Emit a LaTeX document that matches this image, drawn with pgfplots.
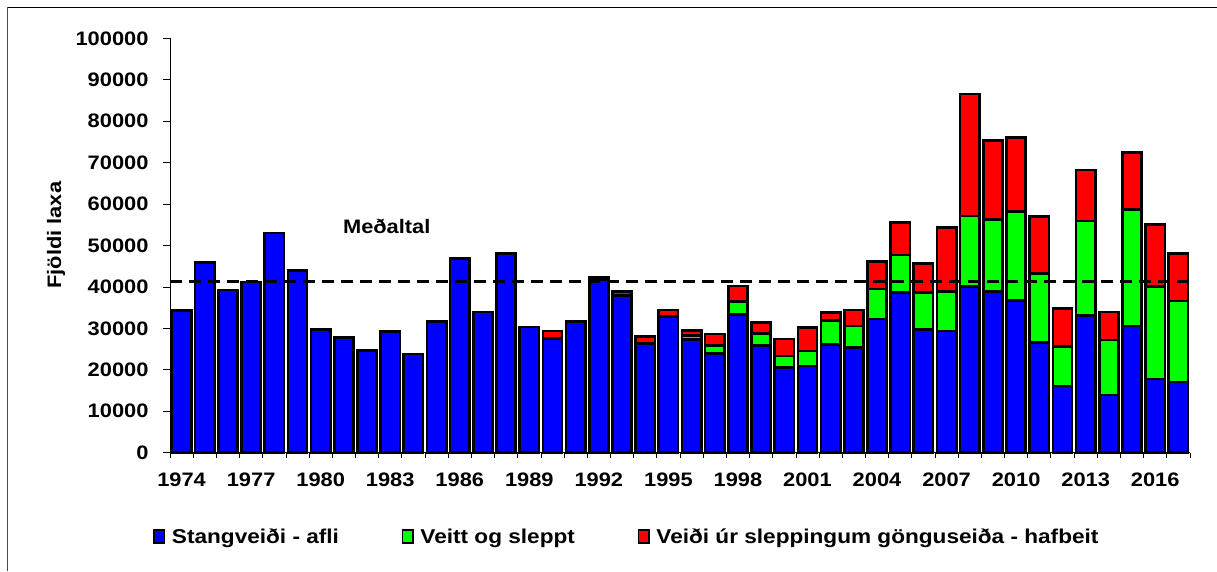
\documentclass[border=0pt]{standalone}
\usepackage{pgfplots}
\pgfplotsset{compat=1.18}
\usepackage{pgfplotstable}
\usepackage{fontspec}
\setmainfont{Liberation Sans}
\newfontfamily\wideb{Liberation Sans}[FakeStretch=1.12]
\newfontfamily\legb{Liberation Sans}[FakeStretch=1.13]
\newcommand{\mainfnt}{\wideb\bfseries\fontsize{19.5}{22}\selectfont}
\newcommand{\legfnt}{\legb\bfseries\fontsize{20}{22}\selectfont}
\definecolor{cblue}{RGB}{0,0,255}
\definecolor{cgreen}{RGB}{0,255,0}
\definecolor{cred}{RGB}{255,0,0}

\pgfplotstableread{
x year blue green red
0 1974 34300 0 0
1 1975 45900 0 0
2 1976 39300 0 0
3 1977 41200 0 0
4 1978 53000 0 0
5 1979 44000 0 0
6 1980 29800 0 0
7 1981 27800 0 0
8 1982 24600 0 0
9 1983 29300 0 0
10 1984 23800 0 0
11 1985 31700 0 0
12 1986 46800 0 0
13 1987 34000 0 0
14 1988 48000 0 0
15 1989 30300 0 0
16 1990 27600 0 1800
17 1991 31600 0 0
18 1992 41700 0 600
19 1993 37900 0 1000
20 1994 26400 0 1600
21 1995 32800 0 1600
22 1996 27300 1000 1200
23 1997 24000 1900 2700
24 1998 33400 3100 3700
25 1999 25800 3000 2600
26 2000 20600 2700 4100
27 2001 20900 3600 5700
28 2002 26100 5800 1900
29 2003 25400 5200 3800
30 2004 32300 7200 6600
31 2005 38600 9100 7800
32 2006 29800 8900 7000
33 2007 29400 9500 15400
34 2008 40100 17000 29500
35 2009 38900 17400 19000
36 2010 36800 21400 17900
37 2011 26600 16700 13700
38 2012 16100 9500 9200
39 2013 33100 22800 12300
40 2014 13900 13300 6800
41 2015 30600 28100 13800
42 2016 17800 22300 15000
43 2017 17100 19500 11500
}\datatable

\pgfplotstableread{
x avg
-0.5 41300
43.5 41300
}\avgtable

\begin{document}
\begin{tikzpicture}
\path[use as bounding box] (0,0) rectangle (1217pt,571pt);
\draw[line width=0.8pt] (7pt,564pt) -- (1217pt,564pt);
\draw[line width=0.8pt, black!70] (7pt,564pt) -- (7pt,0pt);
\begin{axis}[
  at={(170pt,118.3pt)}, anchor=south west,
  scale only axis, width=1020pt, height=414.4pt,
  ybar stacked, bar width=0.83,
  xmin=-0.5, xmax=43.5, ymin=0, ymax=100000,
  clip=false,
  axis x line*=bottom, axis y line*=left,
  axis line style={line width=0.8pt},
  tick align=outside,
  major tick length=7pt, minor tick length=5pt,
  tick style={black, line width=0.8pt},
  every major x tick/.append style={draw=none},
  xtick={0,3,...,42},
  xticklabels={1974,1977,1980,1983,1986,1989,1992,1995,1998,2001,2004,2007,2010,2013,2016},
  minor xtick={-0.5,0.5,...,43.5},
  ytick={0,10000,20000,30000,40000,50000,60000,70000,80000,90000,100000},
  yticklabels={0,10000,20000,30000,40000,50000,60000,70000,80000,90000,100000},
  scaled y ticks=false,
  ticklabel style={font=\mainfnt},
  yticklabel style={xshift=-11pt},
  xticklabel style={yshift=-10pt},
  ylabel={Fjöldi laxa},
  every axis y label/.style={at={(axis description cs:-0.1118,0.525)}, rotate=90, anchor=center, font=\mainfnt},
  legend style={draw=none, fill=none, font=\legfnt, legend columns=3,
     at={(axis description cs:-0.0164,-0.2027)}, anchor=west,
     inner sep=0pt, nodes={inner sep=0pt},
     /tikz/every odd column/.append style={column sep=6.5pt},
     /tikz/every even column/.append style={column sep=63pt}},
  legend cell align=left,
  mylegend/.style={legend image code/.code={\draw[##1, line width=1.5pt] (0pt,-6.5pt) rectangle (10.5pt,6.5pt);}},
]
\addplot[fill=cblue, draw=black, line width=2.6pt, mylegend] table[x=x, y=blue]{\datatable};
\addplot[fill=cgreen, draw=black, line width=2.6pt, mylegend] table[x=x, y=green]{\datatable};
\addplot[fill=cred, draw=black, line width=2.6pt, mylegend] table[x=x, y=red]{\datatable};
\legend{Stangveiði - afli, Veitt og sleppt, Veiði úr sleppingum gönguseiða - hafbeit}
\end{axis}
\begin{axis}[
  at={(170pt,118.3pt)}, anchor=south west,
  scale only axis, width=1020pt, height=414.4pt,
  xmin=-0.5, xmax=43.5, ymin=0, ymax=100000,
  hide axis, clip=false,
]
\addplot[black, line width=3pt, dash pattern=on 12pt off 7pt] table[x=x, y=avg]{\avgtable};
\node[font=\mainfnt, anchor=base] at (axis cs:8.85,53000) {Meðaltal};
\end{axis}
\end{tikzpicture}
\end{document}
